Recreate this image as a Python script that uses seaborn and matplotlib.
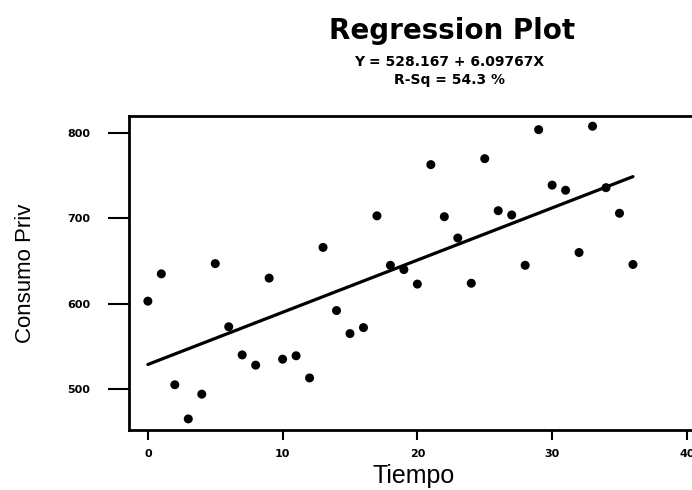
import matplotlib
matplotlib.use("Agg")
import matplotlib.pyplot as plt
import seaborn as sns
import pandas as pd

tiempo = list(range(0, 37))
consumo = [603, 635, 505, 465, 494, 647, 573, 540, 528, 630,
           535, 539, 513, 666, 592, 565, 572, 703, 645, 640,
           623, 763, 702, 677, 624, 770, 709, 704, 645, 804,
           739, 733, 660, 808, 736, 706, 646]
xticks = [0, 10, 20, 30, 40]
yticks = [500, 600, 700, 800]
title = "Regression Plot"
equation = "Y = 528.167 + 6.09767X"
rsq = "R-Sq = 54.3 %"

df = pd.DataFrame({"Tiempo": tiempo, "Consumo Priv": consumo})

sns.set_theme(style="white")
plt.rcParams["font.family"] = ["Liberation Sans", "DejaVu Sans"]
plt.rcParams["text.color"] = "black"
plt.rcParams["axes.labelcolor"] = "black"

fig = plt.figure(figsize=(6.92, 4.90), dpi=100)
ax = fig.add_axes([129/692, 1-430/490, (699-129)/692, (430-116)/490])

sns.regplot(data=df, x="Tiempo", y="Consumo Priv", ax=ax, ci=None, truncate=True,
            scatter_kws=dict(color="black", s=42, edgecolors="none", alpha=1),
            line_kws=dict(color="black", lw=2.3))

ax.set_xlim(-1.4, 40.9)
ax.set_ylim(452, 820)
ax.set_xticks(xticks)
ax.set_yticks(yticks)
tickfont = dict(fontsize=8, fontweight="bold", family=["DejaVu Sans"])
ax.set_xticklabels([str(t) for t in xticks], **tickfont)
ax.set_yticklabels([str(t) for t in yticks], **tickfont)
ax.tick_params(axis="y", direction="out", length=15, width=1.5, pad=13, left=True, colors="black")
ax.tick_params(axis="x", direction="out", length=7, width=1.5, pad=7, bottom=True, colors="black")
for side in ["left", "bottom", "top", "right"]:
    ax.spines[side].set_visible(True)
    ax.spines[side].set_color("black")
    ax.spines[side].set_linewidth(2)

ax.set_xlabel("Tiempo", fontsize=18, labelpad=3)
ax.set_ylabel("Consumo Priv", fontsize=16, labelpad=22)

fig.text(452/692, 1-39/490, title, ha="center", va="baseline", fontsize=20,
         fontweight="bold", family=["DejaVu Sans"])
fig.text(449/692, 1-66/490, equation, ha="center", va="baseline", fontsize=10,
         fontweight="bold", family=["DejaVu Sans"])
fig.text(449/692, 1-84/490, rsq, ha="center", va="baseline", fontsize=10,
         fontweight="bold", family=["DejaVu Sans"])

fig.savefig("out.png", dpi=100)
